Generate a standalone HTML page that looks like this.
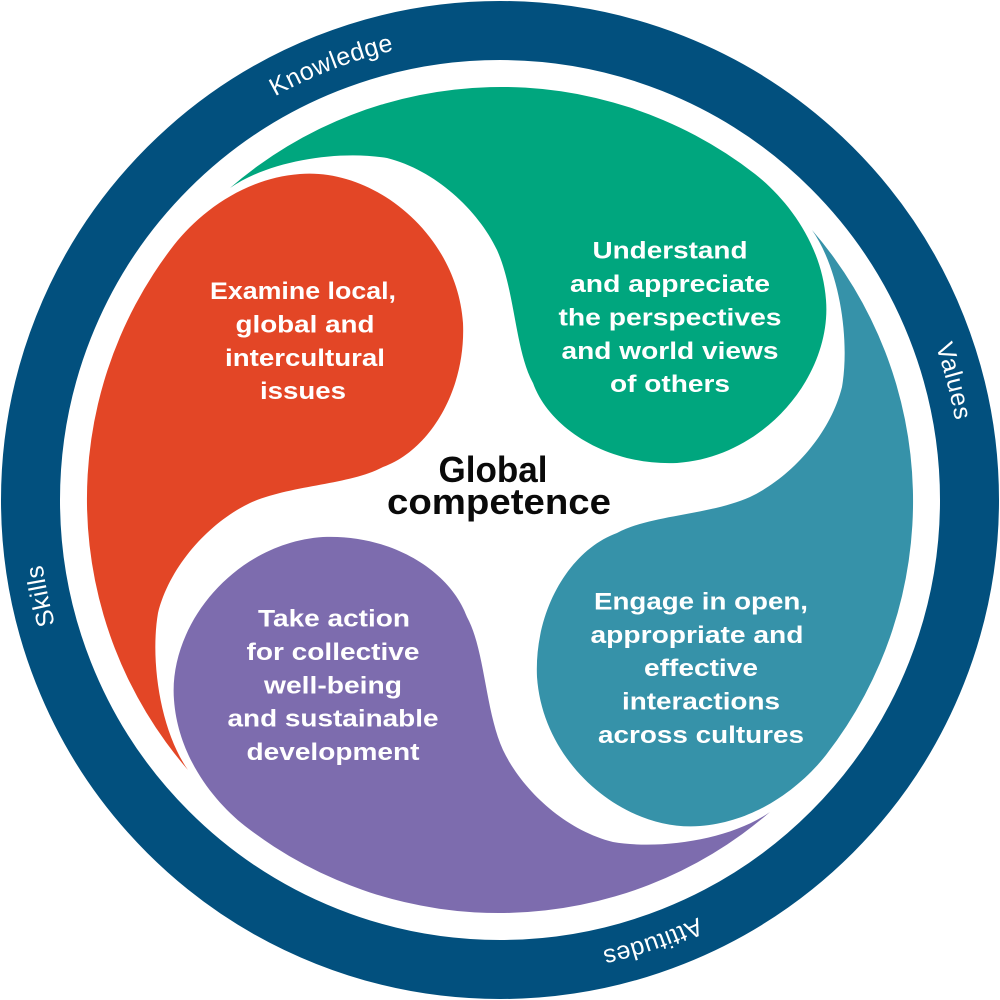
<!DOCTYPE html>
<html>
<head>
<meta charset="utf-8">
<style>
html,body{margin:0;padding:0;background:#ffffff;}
svg{display:block;}
.w{font-family:"Liberation Sans",Arial,sans-serif;font-weight:bold;font-size:24.5px;fill:#ffffff;}
.c{font-family:"Liberation Sans",Arial,sans-serif;font-weight:bold;font-size:36.5px;fill:#0a0a0a;}
.r{font-family:"Liberation Sans",Arial,sans-serif;font-weight:normal;font-size:25px;fill:#ffffff;letter-spacing:0.5px;}
</style>
</head>
<body>
<svg width="1000" height="1000" viewBox="0 0 1000 1000" xmlns="http://www.w3.org/2000/svg">
<defs>
<path id="rp" d="M 962 500 A 462 462 0 1 1 38 500 A 462 462 0 1 1 962 500"/>
</defs>
<rect width="1000" height="1000" fill="#ffffff"/>
<circle cx="500" cy="500" r="469.5" fill="none" stroke="#02507e" stroke-width="59"/>

<path fill="#e34626" d="M 188 770 A 414 414 0 0 1 174 245 C 200 212 245 178 300 174 C 375 168 457 235 463 323 C 466 390 430 450 383 467 C 350 485 290 485 250 503 C 210 522 170 565 158 613 C 150 660 160 730 188 770 Z"/>
<path fill="#00a67e" transform="rotate(90 500 500)" d="M 188 770 A 414 414 0 0 1 174 245 C 200 212 245 178 300 174 C 375 168 457 235 463 323 C 466 390 430 450 383 467 C 350 485 290 485 250 503 C 210 522 170 565 158 613 C 150 660 160 730 188 770 Z"/>
<path fill="#3692a9" transform="rotate(180 500 500)" d="M 188 770 A 414 414 0 0 1 174 245 C 200 212 245 178 300 174 C 375 168 457 235 463 323 C 466 390 430 450 383 467 C 350 485 290 485 250 503 C 210 522 170 565 158 613 C 150 660 160 730 188 770 Z"/>
<path fill="#7d6cae" transform="rotate(270 500 500)" d="M 188 770 A 414 414 0 0 1 174 245 C 200 212 245 178 300 174 C 375 168 457 235 463 323 C 466 390 430 450 383 467 C 350 485 290 485 250 503 C 210 522 170 565 158 613 C 150 660 160 730 188 770 Z"/>

<!-- Red text -->
<text class="w" x="303" y="299" text-anchor="middle" textLength="186" lengthAdjust="spacingAndGlyphs">Examine local,</text>
<text class="w" x="305" y="332.5" text-anchor="middle" textLength="139" lengthAdjust="spacingAndGlyphs">global and</text>
<text class="w" x="305" y="366" text-anchor="middle" textLength="160" lengthAdjust="spacingAndGlyphs">intercultural</text>
<text class="w" x="303" y="399" text-anchor="middle" textLength="86" lengthAdjust="spacingAndGlyphs">issues</text>

<!-- Green text -->
<text class="w" x="670" y="258.5" text-anchor="middle" textLength="155" lengthAdjust="spacingAndGlyphs">Understand</text>
<text class="w" x="670" y="292" text-anchor="middle" textLength="200" lengthAdjust="spacingAndGlyphs">and appreciate</text>
<text class="w" x="670" y="325.5" text-anchor="middle" textLength="223" lengthAdjust="spacingAndGlyphs">the perspectives</text>
<text class="w" x="670" y="359" text-anchor="middle" textLength="217" lengthAdjust="spacingAndGlyphs">and world views</text>
<text class="w" x="670" y="392" text-anchor="middle" textLength="120" lengthAdjust="spacingAndGlyphs">of others</text>

<!-- Teal text -->
<text class="w" x="701" y="609.5" text-anchor="middle" textLength="214" lengthAdjust="spacingAndGlyphs">Engage in open,</text>
<text class="w" x="697" y="643" text-anchor="middle" textLength="213" lengthAdjust="spacingAndGlyphs">appropriate and</text>
<text class="w" x="701" y="676" text-anchor="middle" textLength="114" lengthAdjust="spacingAndGlyphs">effective</text>
<text class="w" x="701" y="709.5" text-anchor="middle" textLength="158" lengthAdjust="spacingAndGlyphs">interactions</text>
<text class="w" x="701" y="743" text-anchor="middle" textLength="206" lengthAdjust="spacingAndGlyphs">across cultures</text>

<!-- Purple text -->
<text class="w" x="334" y="626.7" text-anchor="middle" textLength="152" lengthAdjust="spacingAndGlyphs">Take action</text>
<text class="w" x="333" y="660" text-anchor="middle" textLength="173" lengthAdjust="spacingAndGlyphs">for collective</text>
<text class="w" x="333" y="693.3" text-anchor="middle" textLength="138" lengthAdjust="spacingAndGlyphs">well-being</text>
<text class="w" x="333" y="726.7" text-anchor="middle" textLength="211" lengthAdjust="spacingAndGlyphs">and sustainable</text>
<text class="w" x="333" y="760" text-anchor="middle" textLength="173" lengthAdjust="spacingAndGlyphs">development</text>

<!-- Center -->
<text class="c" x="493" y="482" text-anchor="middle" textLength="109" lengthAdjust="spacingAndGlyphs">Global</text>
<text class="c" x="499" y="514" text-anchor="middle" textLength="224" lengthAdjust="spacingAndGlyphs">competence</text>

<!-- Ring labels -->
<text class="r"><textPath href="#rp" startOffset="2006" text-anchor="middle">Knowledge</textPath></text>
<text class="r"><textPath href="#rp" startOffset="2784" text-anchor="middle">Values</textPath></text>
<text class="r"><textPath href="#rp" startOffset="572" text-anchor="middle">Attitudes</textPath></text>
<text class="r"><textPath href="#rp" startOffset="1356" text-anchor="middle">Skills</textPath></text>
</svg>
</body>
</html>
